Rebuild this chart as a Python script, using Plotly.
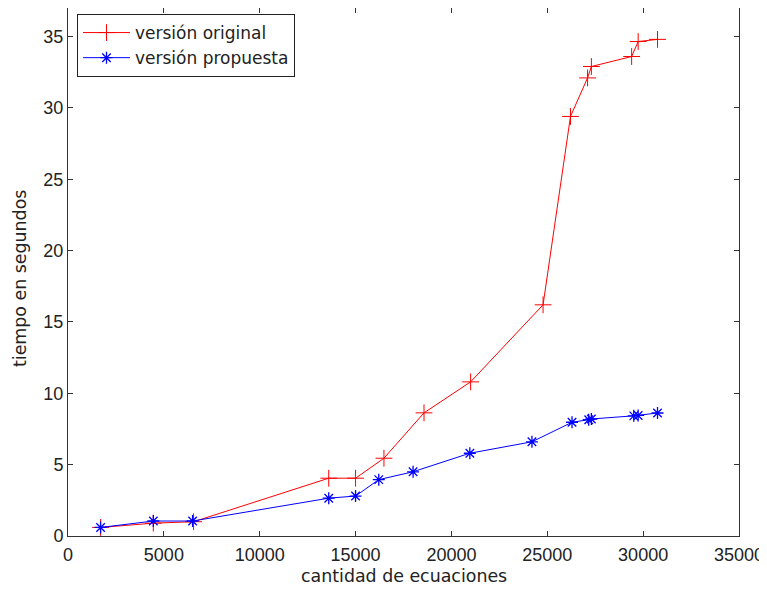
import plotly.graph_objects as go

x_original = [1700, 4450, 6550, 13600, 15000, 16480, 18570, 21000, 24780, 26210, 27100, 27300, 29400, 29740, 30750]
y_original = [0.6, 0.9, 1.0, 4.05, 4.05, 5.45, 8.63, 10.8, 16.2, 29.4, 32.1, 32.9, 33.6, 34.65, 34.8]

x_propuesta = [1700, 4450, 6500, 13600, 15000, 16210, 18000, 20960, 24200, 26290, 27160, 27300, 29510, 29740, 30750]
y_propuesta = [0.6, 1.05, 1.05, 2.65, 2.8, 3.95, 4.5, 5.8, 6.6, 7.97, 8.15, 8.2, 8.42, 8.45, 8.62]

x_ticks = [0, 5000, 10000, 15000, 20000, 25000, 30000, 35000]
y_ticks = [0, 5, 10, 15, 20, 25, 30, 35]

x_title = "cantidad de ecuaciones"
y_title = "tiempo en segundos"

fig = go.Figure()
fig.add_trace(go.Scatter(
    x=x_original, y=y_original, mode="lines+markers", name="versión original",
    line=dict(color="#ff0000", width=1),
    marker=dict(symbol="cross-thin", size=12, line=dict(color="#ff0000", width=1), color="#ff0000"),
))
fig.add_trace(go.Scatter(
    x=x_propuesta, y=y_propuesta, mode="lines+markers", name="versión propuesta",
    line=dict(color="#0000ff", width=1),
    marker=dict(symbol="asterisk", size=10, line=dict(color="#0000ff", width=1.3), color="#0000ff"),
))

axis_common = dict(
    showgrid=False, zeroline=False, showline=True, linecolor="#333333", linewidth=1,
    mirror="ticks", ticks="inside", ticklen=5, tickcolor="#333333", automargin=False,
    tickfont=dict(family="Liberation Sans, Arial, sans-serif", size=18, color="#222222"),
)

title_font = dict(family="DejaVu Sans, sans-serif", size=17.4, color="#222222")

fig.update_layout(
    width=767, height=589,
    margin=dict(l=60, r=36, t=0, b=61),
    paper_bgcolor="white", plot_bgcolor="white",
    font=dict(family="DejaVu Sans, sans-serif", size=16, color="#222222"),
    xaxis=dict(range=[0, 35000], tickvals=x_ticks, ticktext=[str(v) for v in x_ticks],
               ticklabelstandoff=2, **axis_common),
    yaxis=dict(range=[0, 37], tickvals=y_ticks, ticktext=[str(v) for v in y_ticks],
               **axis_common),
    legend=dict(x=0.0134, y=0.9886, xanchor="left", yanchor="top",
                bgcolor="white", bordercolor="#222222", borderwidth=1,
                font=dict(family="DejaVu Sans, sans-serif", size=17, color="#222222"),
                itemwidth=47, tracegroupgap=0),
    showlegend=True,
    annotations=[
        dict(text=x_title, xref="paper", yref="paper", x=0.5, y=0, xanchor="center",
             yanchor="middle", yshift=-40, showarrow=False, font=title_font),
        dict(text=y_title, xref="paper", yref="paper", x=0, y=0.5, xanchor="center",
             yanchor="middle", xshift=-48, yshift=-7, textangle=-90, showarrow=False,
             font=title_font),
    ],
)

fig.write_html("out.html")
